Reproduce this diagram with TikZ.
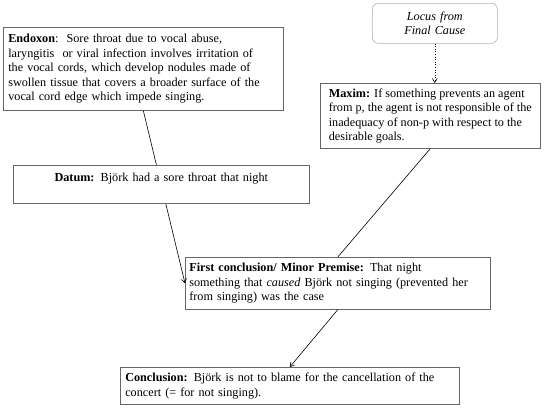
\documentclass[tikz,border=0pt]{standalone}
\usepackage{fontspec}
\setmainfont{Liberation Serif}
\usetikzlibrary{arrows.meta}
\begin{document}
\begin{tikzpicture}[x=1pt,y=-1pt,
  txt/.style={font=\fontsize{12.2}{14.5}\selectfont},
  box/.style={txt,draw=black!60,line width=0.6pt,fill=white,anchor=north west,
    inner xsep=5pt,inner ysep=3pt,align=left},
  conn/.style={line width=0.6pt,black},
  tip/.style={-{Straight Barb[length=4pt,width=5pt]}}]
\useasboundingbox (0,0) rectangle (553,407);
\node[box,text width=270pt,minimum height=83pt] (endoxon) at (3,27)
 {\textbf{Endoxon}:\ \ Sore throat due to vocal abuse,\\
  laryngitis\ \ or viral infection involves irritation of\\
  the vocal cords, which develop nodules made of\\
  swollen tissue that covers a broader surface of the\\
  vocal cord edge which impede singing.};
\node[box,draw=black!30,rounded corners=6pt,text width=115pt,minimum height=40pt,align=center,font=\fontsize{12.2}{14.5}\selectfont\itshape] (locus) at (372,3)
 {Locus from\\Final Cause};
\node[box,minimum width=220pt,minimum height=65pt] (maxim) at (320,83)
 {\textbf{Maxim:} If something prevents an agent\\
  from p, the agent is not responsible of the\\
  inadequacy\ of non-p with respect to the\\
  desirable goals.};
\node[box,inner xsep=4pt,text width=297pt,minimum height=52pt] (fc) at (185,257)
 {\textbf{First conclusion/ Minor Premise:} That night\\
  something that \textit{caused} Björk not singing (prevented her\\
  from singing) was the case};
\node[box,text width=329pt,minimum height=37pt] (concl) at (120,367)
 {\textbf{Conclusion:} Björk is not to blame for the cancellation of the\\
  concert (= for not singing).};
\draw[conn,tip] (endoxon.south) -- (fc.west);
\node[box,text width=286pt,align=center,inner ysep=3.5pt,text height=12.5pt,text depth=18.5pt] (datum) at (13,165)
 {\textbf{Datum:} Björk had a sore throat that night};
\draw[conn,dotted,tip] (locus.south) -- (locus.south |- maxim.north);
\draw[conn] (maxim.south) -- (fc.north);
\draw[conn,tip] (fc.south) -- (concl.north);
\end{tikzpicture}
\end{document}
